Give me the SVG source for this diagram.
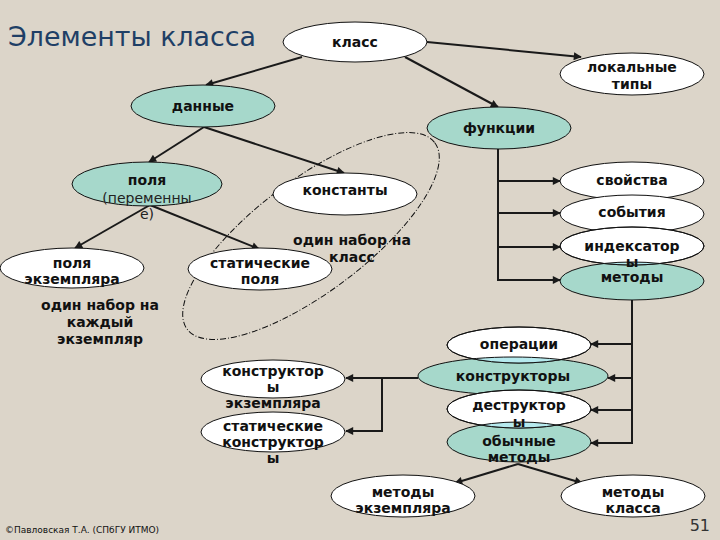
<svg xmlns="http://www.w3.org/2000/svg" width="720" height="540" viewBox="0 0 720 540">
<defs>
<marker id="arr" viewBox="0 0 10 10" refX="9" refY="5" markerWidth="9" markerHeight="8" markerUnits="userSpaceOnUse" orient="auto">
<path d="M0,0 L10,5 L0,10 z" fill="#1a1a1a"/>
</marker>
<clipPath id="cMet"><ellipse cx="632" cy="281" rx="72" ry="19"/></clipPath>
<clipPath id="cKon"><ellipse cx="513" cy="376" rx="95" ry="19"/></clipPath>
<clipPath id="cOby"><ellipse cx="519" cy="442" rx="72" ry="20"/></clipPath>
<clipPath id="cInd"><ellipse cx="632" cy="246" rx="72" ry="19"/></clipPath>
<clipPath id="cOpe"><ellipse cx="519" cy="345" rx="72" ry="18"/></clipPath>
<clipPath id="cDes"><ellipse cx="519" cy="409" rx="72" ry="19"/></clipPath>
</defs>
<style>
.w{fill:#ffffff;stroke:#111;stroke-width:1}
.t{fill:#a6d8cb;stroke:#111;stroke-width:1}
.ov{fill:#b6eaee;stroke:none}
.ol{fill:none;stroke:#111;stroke-width:1}
.lb{font-family:"DejaVu Sans",Verdana,sans-serif;font-size:14px;font-weight:bold;fill:#111;text-anchor:middle}
.ln{font-family:"DejaVu Sans",Verdana,sans-serif;font-size:14px;fill:#222;text-anchor:middle}
.c{stroke:#1a1a1a;stroke-width:2;fill:none}
.ca{stroke:#1a1a1a;stroke-width:2;fill:none;marker-end:url(#arr)}
</style>
<rect x="0" y="0" width="720" height="540" fill="#dcd5c9"/>
<text x="8" y="46" font-family="'DejaVu Sans',Verdana,sans-serif" font-size="26" fill="#1f3f66" textLength="248" lengthAdjust="spacingAndGlyphs">Элементы класса</text>

<g id="connectors">
<line class="ca" x1="302" y1="57" x2="206" y2="85"/>
<line class="ca" x1="427" y1="42" x2="581" y2="57"/>
<line class="ca" x1="405" y1="57" x2="498" y2="107"/>
<line class="ca" x1="204" y1="127" x2="149" y2="162"/>
<line class="ca" x1="204" y1="127" x2="344" y2="173"/>
<line class="ca" x1="150" y1="205" x2="75" y2="248"/>
<line class="ca" x1="150" y1="205" x2="259" y2="249"/>
<path class="c" d="M498,149 V281"/>
<line class="ca" x1="498" y1="181" x2="560" y2="181"/>
<line class="ca" x1="498" y1="213" x2="560" y2="213"/>
<line class="ca" x1="498" y1="247" x2="560" y2="247"/>
<line class="ca" x1="498" y1="280" x2="560" y2="280"/>
<path class="c" d="M632,300 V444"/>
<line class="ca" x1="632" y1="344" x2="591" y2="344"/>
<line class="ca" x1="632" y1="378" x2="608" y2="378"/>
<line class="ca" x1="632" y1="410" x2="591" y2="410"/>
<line class="ca" x1="632" y1="443" x2="591" y2="443"/>
<path class="ca" d="M418,378 H346"/>
<path class="ca" d="M382,378 V431 H346"/>
<line class="ca" x1="518" y1="464" x2="455" y2="483"/>
<line class="ca" x1="518" y1="464" x2="582" y2="483"/>
</g>

<ellipse id="group-oval" cx="311" cy="236" rx="155" ry="56" transform="rotate(-37 311 236)" fill="none" stroke="#111" stroke-width="1" stroke-dasharray="6 2 1 2"/>

<g id="node-klass"><ellipse class="w" cx="355" cy="42" rx="72" ry="20"/><text class="lb" x="355" y="47">класс</text></g>
<g id="node-lokalnye"><ellipse class="w" cx="632" cy="74" rx="72" ry="21"/><text class="lb" x="632" y="72">локальные</text><text class="lb" x="632" y="89">типы</text></g>
<g id="node-dannye"><ellipse class="t" cx="203" cy="106" rx="72" ry="21"/><text class="lb" x="203" y="111">данные</text></g>
<g id="node-funkcii"><ellipse class="t" cx="499" cy="128" rx="72" ry="21"/><text class="lb" x="499" y="133">функции</text></g>
<g id="node-polya"><ellipse class="t" cx="147" cy="184" rx="75" ry="22"/><text class="lb" x="147" y="185">поля</text><text class="ln" x="147" y="203">(переменны</text><text class="ln" x="147" y="219">е)</text></g>
<g id="node-konstanty"><ellipse class="w" cx="345" cy="194" rx="72" ry="21"/><text class="lb" x="345" y="195">константы</text></g>
<g id="node-polya-ekz"><ellipse class="w" cx="72" cy="268" rx="72" ry="20"/><text class="lb" x="72" y="268">поля</text><text class="lb" x="72" y="284">экземпляра</text></g>
<g id="node-stat-polya"><ellipse class="w" cx="260" cy="269" rx="72" ry="21"/><text class="lb" x="260" y="268">статические</text><text class="lb" x="260" y="284">поля</text></g>
<text class="lb" x="352" y="245">один набор на</text>
<text class="lb" x="352" y="262">класс</text>
<text class="lb" x="100" y="310">один набор на</text>
<text class="lb" x="100" y="327">каждый</text>
<text class="lb" x="100" y="344">экземпляр</text>

<g id="node-svoistva"><ellipse class="w" cx="632" cy="181" rx="72" ry="19"/><text class="lb" x="632" y="185">свойства</text></g>
<g id="node-sobytiya"><ellipse class="w" cx="632" cy="214" rx="72" ry="19"/><text class="lb" x="632" y="217">события</text></g>
<g id="node-metody"><ellipse class="t" cx="632" cy="281" rx="72" ry="19"/></g>
<g id="node-indeksatory"><ellipse class="w" cx="632" cy="246" rx="72" ry="19"/>
<ellipse class="ov" cx="632" cy="246" rx="72" ry="19" clip-path="url(#cMet)"/>
<ellipse class="ol" cx="632" cy="281" rx="72" ry="19" clip-path="url(#cInd)"/>
<ellipse class="ol" cx="632" cy="246" rx="72" ry="19"/>
<text class="lb" x="632" y="251">индексатор</text><text class="lb" x="632" y="267">ы</text></g>
<text class="lb" x="632" y="282" id="node-metody-label">методы</text>

<g id="node-konstruktory"><ellipse class="t" cx="513" cy="376" rx="95" ry="19"/><text class="lb" x="513" y="381">конструкторы</text></g>
<g id="node-operacii"><ellipse class="w" cx="519" cy="345" rx="72" ry="18"/>
<ellipse class="ov" cx="519" cy="345" rx="72" ry="18" clip-path="url(#cKon)"/>
<ellipse class="ol" cx="513" cy="376" rx="95" ry="19" clip-path="url(#cOpe)"/>
<ellipse class="ol" cx="519" cy="345" rx="72" ry="18"/>
<text class="lb" x="519" y="349">операции</text></g>
<g id="node-obychnye"><ellipse class="t" cx="519" cy="442" rx="72" ry="20"/></g>
<g id="node-destruktory"><ellipse class="w" cx="519" cy="409" rx="72" ry="19"/>
<ellipse class="ov" cx="519" cy="409" rx="72" ry="19" clip-path="url(#cOby)"/>
<ellipse class="ol" cx="519" cy="442" rx="72" ry="20" clip-path="url(#cDes)"/>
<ellipse class="ol" cx="519" cy="409" rx="72" ry="19"/>
<text class="lb" x="519" y="410">деструктор</text><text class="lb" x="519" y="427">ы</text></g>
<g id="node-obychnye-label"><text class="lb" x="519" y="446">обычные</text><text class="lb" x="519" y="462">методы</text></g>

<g id="node-konstr-ekz"><ellipse class="w" cx="273" cy="379" rx="72" ry="19"/><text class="lb" x="273" y="376">конструктор</text><text class="lb" x="273" y="392">ы</text><text class="lb" x="273" y="408">экземпляра</text></g>
<g id="node-stat-konstr"><ellipse class="w" cx="273" cy="432" rx="72" ry="20"/><text class="lb" x="273" y="431">статические</text><text class="lb" x="273" y="447">конструктор</text><text class="lb" x="273" y="463">ы</text></g>
<g id="node-metody-ekz"><ellipse class="w" cx="403" cy="496" rx="72" ry="21"/><text class="lb" x="403" y="497">методы</text><text class="lb" x="403" y="513">экземпляра</text></g>
<g id="node-metody-klassa"><ellipse class="w" cx="633" cy="496" rx="72" ry="21"/><text class="lb" x="633" y="497">методы</text><text class="lb" x="633" y="513">класса</text></g>

<text x="5" y="533" font-family="'DejaVu Sans',Verdana,sans-serif" font-size="9" fill="#111">©Павловская Т.А. (СПбГУ ИТМО)</text>
<text x="710" y="531" font-family="'DejaVu Sans',Verdana,sans-serif" font-size="16" fill="#333" text-anchor="end">51</text>
</svg>
